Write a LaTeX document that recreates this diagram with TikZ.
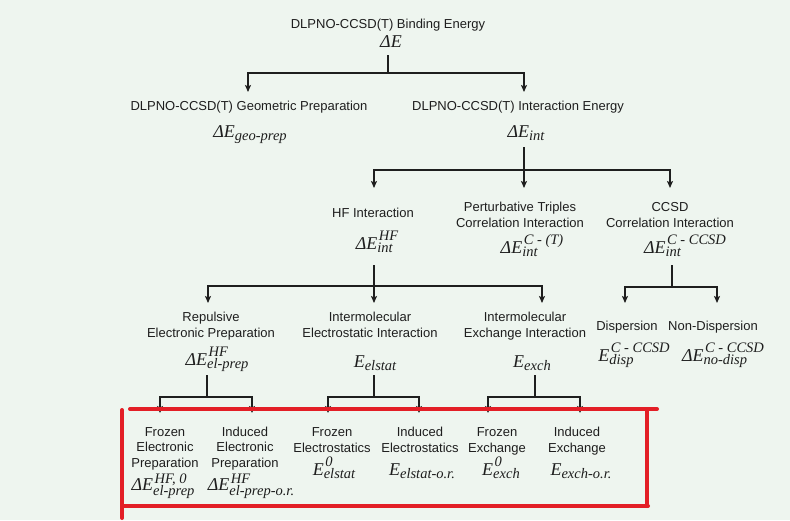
\documentclass[tikz,border=0pt]{standalone}
\usepackage{fontspec}
\setmainfont{Liberation Sans}
\newfontfamily\tnr{Liberation Serif}
\usetikzlibrary{arrows.meta}
\definecolor{bg}{HTML}{EEF5EF}
\definecolor{ink}{HTML}{1E1E1E}
\definecolor{redbox}{HTML}{E31E26}
\newcommand\mfn{\fontsize{18}{18}\selectfont\tnr\itshape}
\newcommand\sfn{\fontsize{14.5}{14.5}\selectfont\tnr\itshape}
% base, superscript, subscript (upper levels)
\newcommand\EE[3]{{\mfn #1}\ooalign{\kern1.5pt\raisebox{9pt}{\sfn #2}\cr\raisebox{-3.5pt}{\sfn #3}\cr}}
% base, superscript, subscript (compact, leaves)
\newcommand\EL[3]{{\mfn #1}\ooalign{\kern1.5pt\raisebox{6.5pt}{\sfn #2}\cr\raisebox{-5.5pt}{\sfn #3}\cr}}
\newcommand\ES[2]{{\mfn #1}\raisebox{-3pt}{\sfn #2}}
\tikzset{
  lab/.style={font=\fontsize{13}{16}\selectfont, text=ink, align=center, inner sep=0pt, anchor=base},
  leaf/.style={font=\fontsize{13}{15.3}\selectfont},
  mth/.style={text=ink, inner sep=0pt, anchor=base},
  stem/.style={draw=ink, line width=2.2pt},
  conn/.style={draw=ink, line width=1.2pt},
  arr/.style={conn, -{Stealth[length=7pt,width=6pt,inset=1.5pt]}},
  redline/.style={draw=redbox, line width=4pt, line cap=round}
}
\begin{document}
\begin{tikzpicture}[x=1pt,y=-1pt]
\path[use as bounding box, fill=bg] (0,0) rectangle (790,520);

% level 1
\node[lab] (bind) at (388,28) {DLPNO-CCSD(T) Binding Energy};
\node[mth] (dE) at (391,47) {{\mfn ΔE}};

% level 2
\node[lab] (geo) at (249,110) {DLPNO-CCSD(T) Geometric Preparation};
\node[mth] (dgeo) at (250,137) {\ES{ΔE}{geo-prep}};
\node[lab] (inte) at (518,110) {DLPNO-CCSD(T) Interaction Energy};
\node[mth] (dint) at (526,137) {\ES{ΔE}{int}};

% level 3 (base = last line)
\node[lab] (hf) at (373,217) {HF Interaction};
\node[mth] (dhf) at (377,249) {\EE{ΔE}{HF}{int}};
\node[lab] (pt) at (520,227) {Perturbative Triples\\Correlation Interaction};
\node[mth] (dpt) at (532,253) {\EE{ΔE}{C - (T)}{int}};
\node[lab] (cc) at (670,227) {CCSD\\Correlation Interaction};
\node[mth] (dcc) at (685,253) {\EE{ΔE}{C - CCSD}{int}};

% level 4
\node[lab] (rep) at (211,337) {Repulsive\\Electronic Preparation};
\node[mth] (drep) at (217,365) {\EE{ΔE}{HF}{el-prep}};
\node[lab] (els) at (370,337) {Intermolecular\\Electrostatic Interaction};
\node[mth] (dels) at (375,367) {\ES{E}{elstat}};
\node[lab] (exc) at (525,337) {Intermolecular\\Exchange Interaction};
\node[mth] (dexc) at (532,367) {\ES{E}{exch}};
\node[lab] (disp) at (627,330) {Dispersion};
\node[mth] (ddisp) at (634,361) {\EE{E}{C - CCSD}{disp}};
\node[lab] (ndisp) at (713,330) {Non-Dispersion};
\node[mth] (dndisp) at (723,361) {\EE{ΔE}{C - CCSD}{no-disp}};

% leaves
\node[lab,leaf] (fep) at (165,467) {Frozen\\Electronic\\Preparation};
\node[mth] (dfep) at (163,490) {\EL{ΔE}{HF, 0}{el-prep}};
\node[lab,leaf] (iep) at (245,467) {Induced\\Electronic\\Preparation};
\node[mth] (diep) at (251,490) {\EL{ΔE}{HF}{el-prep-o.r.}};
\node[lab,leaf] (fes) at (332,452) {Frozen\\Electrostatics};
\node[mth] (dfes) at (334,475) {\EE{E}{0}{elstat}};
\node[lab,leaf] (ies) at (420,452) {Induced\\Electrostatics};
\node[mth] (dies) at (422,475) {\ES{E}{elstat-o.r.}};
\node[lab,leaf] (fex) at (497,452) {Frozen\\Exchange};
\node[mth] (dfex) at (501,475) {\EE{E}{0}{exch}};
\node[lab,leaf] (iex) at (577,452) {Induced\\Exchange};
\node[mth] (diex) at (581,475) {\ES{E}{exch-o.r.}};

% junctions and arrow tips
\coordinate (j0) at (388,73);
\coordinate (t-geo) at (248,92);
\coordinate (t-int) at (524,92);
\coordinate (j1) at (524,170);
\coordinate (t-hf) at (374,188);
\coordinate (t-pt) at (524,188);
\coordinate (t-cc) at (670,188);
\coordinate (j2) at (374,286);
\coordinate (t-rep) at (208,303);
\coordinate (t-els) at (374,303);
\coordinate (t-exc) at (542,303);
\coordinate (j3) at (672,287);
\coordinate (t-disp) at (625,303);
\coordinate (t-ndisp) at (717,303);
\coordinate (j4) at (207,397);
\coordinate (t-fep) at (160,413);
\coordinate (t-iep) at (252,413);
\coordinate (j5) at (374,397);
\coordinate (t-fes) at (328,413);
\coordinate (t-ies) at (419,413);
\coordinate (j6) at (535,397);
\coordinate (t-fex) at (488,413);
\coordinate (t-iex) at (580,413);

% connectors
\draw[stem, shorten <=8pt] (dE.south -| j0) -- (j0);
\draw[arr] (j0) -| (t-geo);
\draw[arr] (j0) -| (t-int);

\draw[stem, shorten <=7pt] (dint.south -| j1) -- (j1);
\draw[arr] (j1) -| (t-hf);
\draw[arr] (j1) -- (t-pt);
\draw[arr] (j1) -| (t-cc);

\draw[stem, shorten <=12.5pt] (dhf.south -| j2) -- (j2);
\draw[arr] (j2) -| (t-rep);
\draw[arr] (j2) -- (t-els);
\draw[arr] (j2) -| (t-exc);

\draw[stem, shorten <=8.5pt] (dcc.south -| j3) -- (j3);
\draw[arr] (j3) -| (t-disp);
\draw[arr] (j3) -| (t-ndisp);

\draw[stem, shorten <=3.4pt] (drep.south -| j4) -- (j4);
\draw[arr] (j4) -| (t-fep);
\draw[arr] (j4) -| (t-iep);

\draw[stem, shorten <=5pt] (dels.south -| j5) -- (j5);
\draw[arr] (j5) -| (t-fes);
\draw[arr] (j5) -| (t-ies);

\draw[stem, shorten <=5pt] (dexc.south -| j6) -- (j6);
\draw[arr] (j6) -| (t-fex);
\draw[arr] (j6) -| (t-iex);

% red frame
\draw[redline] (130,409) -- (657,409);
\draw[redline] (647,409) -- (647,506);
\draw[redline] (122,506) -- (648,506);
\draw[redline] (122,410) -- (122,518);
\end{tikzpicture}
\end{document}
